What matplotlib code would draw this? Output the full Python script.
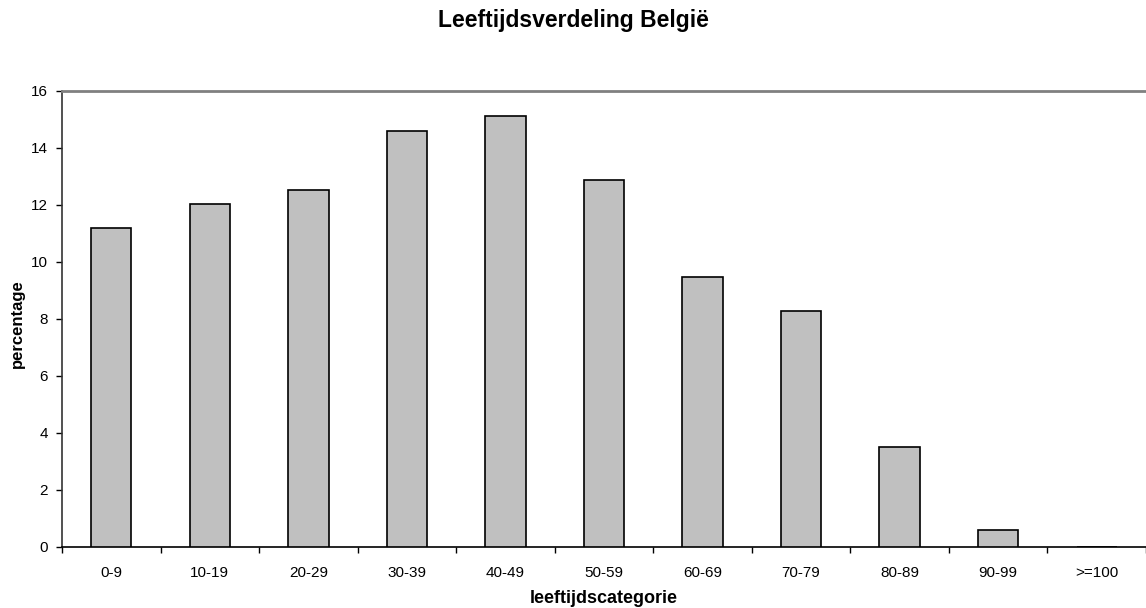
import numpy as np
import matplotlib
matplotlib.use("Agg")
import matplotlib.pyplot as plt
from matplotlib.ticker import FixedLocator, NullFormatter

plt.rcParams['font.family'] = ['Liberation Sans', 'DejaVu Sans']

# age groups and share of population (percent)
categories = ["0-9", "10-19", "20-29", "30-39", "40-49", "50-59",
              "60-69", "70-79", "80-89", "90-99", ">=100"]
percentages = [11.17, 12.01, 12.5, 14.6, 15.1, 12.87,
               9.47, 8.28, 3.51, 0.58, 0.0]
yticks = [0, 2, 4, 6, 8, 10, 12, 14, 16]

W, H = 1146, 608
fig = plt.figure(figsize=(W / 100, H / 100), dpi=100)
ax = fig.add_axes([62 / W, (H - 546.7) / H, 1 - 62 / W, (546.7 - 90.7) / H])

x = np.arange(len(categories))
ax.bar(x, percentages, width=0.41, color="#c0c0c0",
       edgecolor="black", linewidth=1.2, zorder=3)

ax.set_xlim(-0.5, len(categories) - 0.5)
ax.set_ylim(0, 16)
ax.set_yticks(yticks)
ax.set_yticklabels([str(v) for v in yticks], fontsize=11)

# labels at the centres, tick marks between the categories
ax.set_xticks(x)
ax.set_xticklabels(categories, fontsize=11)
ax.tick_params(axis="x", which="major", length=0, pad=14)
ax.xaxis.set_minor_locator(FixedLocator(np.arange(len(categories) + 1) - 0.5))
ax.xaxis.set_minor_formatter(NullFormatter())
ax.tick_params(axis="x", which="minor", length=4, width=1, direction="out")
ax.tick_params(axis="y", length=4, width=1, direction="out", pad=6)

ax.spines["right"].set_visible(False)
ax.spines["top"].set_color("#808080")
ax.spines["top"].set_linewidth(2)
ax.spines["left"].set_color("#333333")
ax.spines["left"].set_linewidth(1.2)
ax.spines["bottom"].set_color("black")
ax.spines["bottom"].set_linewidth(1.2)

fig.text(0.5, 1 - 20 / H, "Leeftijdsverdeling België", ha="center",
         va="center", fontsize=16.5, fontweight="bold")
ax.set_xlabel("leeftijdscategorie", fontsize=13, fontweight="bold")
ax.xaxis.set_label_coords(0.5, -52 / 456)
ax.xaxis.label.set_va("center")
ax.set_ylabel("percentage", fontsize=12, fontweight="bold")
ax.yaxis.set_label_coords(-45 / (W - 62), 0.49)
ax.yaxis.label.set_va("center")

fig.savefig("out.png", dpi=100)
